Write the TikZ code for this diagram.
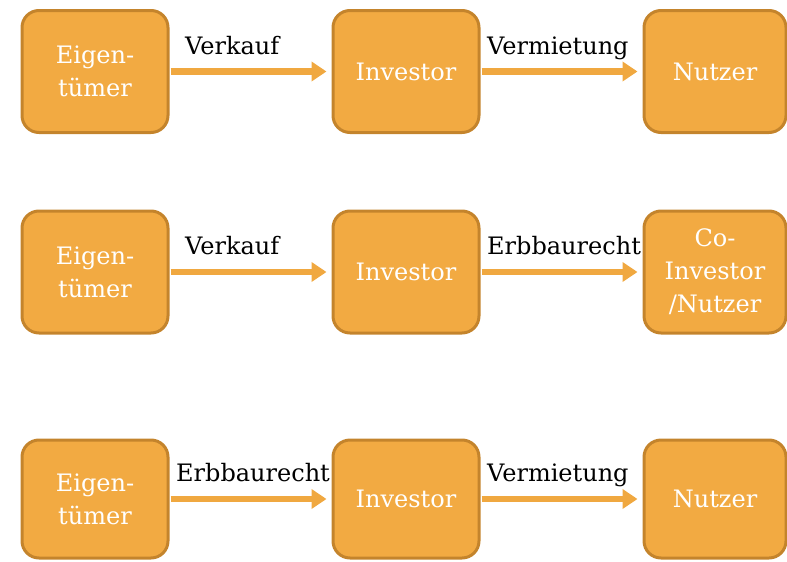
\documentclass[tikz,border=0pt]{standalone}
\usepackage{fontspec}
\setmainfont{DejaVu Serif}
\usetikzlibrary{arrows.meta}
\definecolor{boxfill}{RGB}{242,170,66}
\definecolor{boxline}{RGB}{196,132,44}
\definecolor{arrowcol}{RGB}{240,168,64}
\tikzset{
  actor/.style={draw=boxline, fill=boxfill, line width=3pt, rounded corners=17pt,
    minimum width=#1, minimum height=122pt, align=center, text=white,
    font=\fontsize{24}{33}\selectfont, inner sep=0pt},
  actor/.default=146pt,
  flow/.style={draw=arrowcol, line width=6.5pt, -{Triangle[length=15pt,width=19pt]},
    shorten >=5pt, shorten <=1pt},
  lbl/.style={anchor=base west, inner sep=0pt, font=\fontsize{24}{33}\selectfont, text=black}
}
\begin{document}
\begin{tikzpicture}[x=1pt,y=-1pt]
\useasboundingbox (0,0) rectangle (787,562);
% row 1
\node[actor] (e1) at (95,71.5) {Eigen-\\tümer};
\node[actor] (i1) at (406,71.5) {Investor};
\node[actor=142pt] (n1) at (715,71.5) {Nutzer};
\draw[flow] (e1) -- (i1);
\draw[flow] (i1) -- (n1);
\node[lbl] (l1a) at (185,54) {Verkauf};
\node[lbl] (l1b) at (487,54) {Vermietung};
% row 2
\node[actor] (e2) at (95,272) {Eigen-\\tümer};
\node[actor] (i2) at (406,272) {Investor};
\node[actor=142pt] (n2) at (715,272) {Co-\\Investor\\/Nutzer};
\draw[flow] (e2) -- (i2);
\draw[flow] (i2) -- (n2);
\node[lbl] (l2a) at (185,254) {Verkauf};
\node[lbl] (l2b) at (487,254) {Erbbaurecht};
% row 3
\node[actor, minimum height=118pt] (e3) at (95,499) {Eigen-\\tümer};
\node[actor, minimum height=118pt] (i3) at (406,499) {Investor};
\node[actor=142pt, minimum height=118pt] (n3) at (715,499) {Nutzer};
\draw[flow] (e3) -- (i3);
\draw[flow] (i3) -- (n3);
\node[lbl] (l3a) at (176,481) {Erbbaurecht};
\node[lbl] (l3b) at (487,481) {Vermietung};
\end{tikzpicture}
\end{document}
